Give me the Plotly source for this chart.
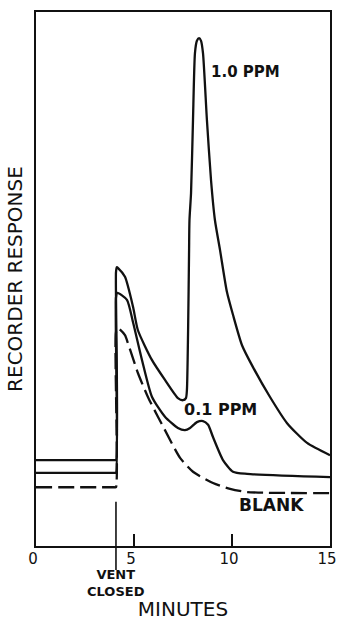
import plotly.graph_objects as go

# ---- data (minutes, recorder response in % of full scale) ----
minutes_1ppm = [0, 4.0, 4.08, 4.08, 4.12, 4.2, 4.54, 4.95, 5.2, 5.92, 6.58, 7.24, 7.5, 7.65, 7.7, 7.76,
                7.81, 7.83, 7.91, 8.01, 8.11, 8.21, 8.32, 8.42, 8.52, 8.72, 8.93, 9.13, 9.39, 9.74,
                10.05, 10.51, 11.07, 11.94, 12.81, 13.83, 15.0]
response_1ppm = [16.1, 16.1, 16.1, 51.2, 52.2, 52.0, 50.4, 44.8, 40.4, 34.8, 31.1, 27.7, 27.3, 27.7, 29.2, 40.4,
                 55.4, 61.0, 66.1, 79.8, 92.3, 94.6, 95.1, 94.6, 92.3, 79.8, 68.5, 61.0, 55.4, 47.6,
                 43.3, 37.6, 33.5, 27.9, 23.0, 19.3, 17.0]

minutes_01ppm = [0, 4.0, 4.08, 4.08, 4.15, 4.64, 4.95, 5.41, 5.92, 6.58, 7.24, 7.6, 7.86, 8.21, 8.52,
                 8.78, 9.03, 9.54, 10.05, 10.77, 15.0]
response_01ppm = [13.7, 13.7, 13.7, 46.5, 47.4, 46.1, 41.9, 34.8, 27.9, 24.2, 22.1, 21.7, 22.1, 23.2, 23.4,
                  22.7, 20.4, 16.1, 13.9, 13.5, 12.9]

minutes_blank = [0, 4.0, 4.08, 4.08, 4.18, 4.54, 4.69, 5.2, 5.71, 6.22, 6.58, 7.35, 8.01, 9.03, 9.9,
                 10.77, 15.0]
response_blank = [11.0, 11.0, 11.0, 40.0, 40.8, 39.5, 38.0, 32.4, 27.9, 24.2, 21.7, 16.5, 13.9, 11.8, 10.7,
                  10.1, 9.9]

vent_time = 4.08
x_tick_values = [0, 5, 10, 15]
x_tick_labels = ["0", "5", "10", "15"]

FONT = "DejaVu Sans"
INK = "#111111"

fig = go.Figure()
fig.add_trace(go.Scatter(x=minutes_1ppm, y=response_1ppm, mode="lines", hoverinfo="skip",
                         line=dict(color=INK, width=2.3, shape="spline", smoothing=0.6)))
fig.add_trace(go.Scatter(x=minutes_01ppm, y=response_01ppm, mode="lines", hoverinfo="skip",
                         line=dict(color=INK, width=2.3, shape="spline", smoothing=0.6)))
fig.add_trace(go.Scatter(x=minutes_blank, y=response_blank, mode="lines", hoverinfo="skip",
                         line=dict(color=INK, width=2.3, dash="16px,6px", shape="spline", smoothing=0.6)))

# vent closed marker line (crosses the time axis)
fig.add_shape(type="line", xref="x", yref="paper", x0=vent_time, x1=vent_time, y0=0.083, y1=-0.045,
              line=dict(color=INK, width=1.6))

fig.add_annotation(x=8.85, y=88.8, xref="x", yref="y", text="1.0 PPM", showarrow=False, xanchor="left",
                   font=dict(family=FONT, size=15, color=INK, weight="bold"))
fig.add_annotation(x=7.45, y=25.5, xref="x", yref="y", text="0.1 PPM", showarrow=False, xanchor="left",
                   font=dict(family=FONT, size=16, color=INK, weight="bold"))
fig.add_annotation(x=10.25, y=7.7, xref="x", yref="y", text="BLANK", showarrow=False, xanchor="left",
                   font=dict(family=FONT, size=17, color=INK, weight="bold"))
fig.add_annotation(x=vent_time, y=-0.036, xref="x", yref="paper", text="VENT<br>CLOSED", showarrow=False,
                   xanchor="center", yanchor="top",
                   font=dict(family=FONT, size=13, color=INK, weight="bold"))

fig.update_layout(
    width=337, height=621,
    margin=dict(l=36, r=7, t=12, b=75, autoexpand=False),
    paper_bgcolor="white", plot_bgcolor="white",
    showlegend=False, hovermode=False,
    font=dict(family=FONT, color=INK),
    xaxis=dict(range=[0, 15], tickvals=x_tick_values, ticktext=x_tick_labels,
               ticks="inside", ticklen=12, tickwidth=1.6, tickcolor=INK,
               tickfont=dict(family=FONT, size=15, color=INK), ticklabeloverflow="allow",
               ticklabelstandoff=-2, ticklabelshift=-3,
               showline=True, linewidth=2, linecolor=INK, mirror=True,
               showgrid=False, zeroline=False, automargin=False,
               title=dict(text="MINUTES", font=dict(family=FONT, size=20, color=INK), standoff=54)),
    yaxis=dict(range=[0, 100], showticklabels=False, ticks="",
               showline=True, linewidth=2, linecolor=INK, mirror=True,
               showgrid=False, zeroline=False, automargin=False,
               title=dict(text="RECORDER RESPONSE", font=dict(family=FONT, size=20, color=INK), standoff=6)),
)

# remove the default 8px page margin so the figure fills the window exactly
fig.write_html("out.html", config={"displayModeBar": False, "staticPlot": True},
               post_script="document.body.style.margin='0';document.body.style.overflow='hidden';")
